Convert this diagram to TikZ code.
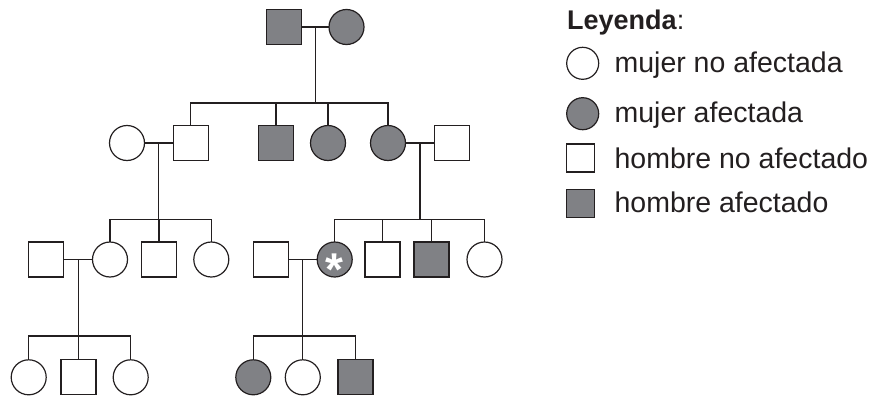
\documentclass[tikz,border=0pt]{standalone}
\usepackage{fontspec}
\setmainfont{Liberation Sans}
\usetikzlibrary{calc}
\definecolor{lc}{RGB}{35,31,32}
\definecolor{gc}{RGB}{128,129,133}
\begin{document}
\begin{tikzpicture}[x=1pt,y=-1pt,
  line width=1.2pt, draw=lc,
  fem/.style={circle, draw=lc, line width=1.2pt, minimum size=35pt, inner sep=0pt, outer sep=0pt},
  mal/.style={rectangle, draw=lc, line width=1.2pt, minimum size=35pt, inner sep=0pt, outer sep=0pt},
  aff/.style={fill=gc},
  lfem/.style={fem, minimum size=32pt},
  lmal/.style={mal, minimum size=28pt},
  ltxt/.style={anchor=base west, inner sep=0pt, text=lc, font=\fontsize{28.5}{31}\selectfont},
  link/.style={draw=lc, line width=1.2pt}]
\useasboundingbox (0,0) rectangle (879,399);

% generation I
\node[mal,aff] (g1m) at (284,27) {};
\node[fem,aff] (g1f) at (346.5,27) {};
\draw[link] (g1m.east) -- (g1f.west);
\coordinate (m1) at ($(g1m.east)!0.5!(g1f.west)$);
\coordinate (s1) at (m1 |- 0,103);

% generation II
\node[fem] (g2a) at (127,143) {};
\node[mal] (g2b) at (190.7,143) {};
\node[mal,aff] (g2c) at (276,143) {};
\node[fem,aff] (g2d) at (328,143) {};
\node[fem,aff] (g2e) at (388,143) {};
\node[mal] (g2f) at (452,143) {};
\draw[link] (m1) -- (s1);
\draw[link] (g2b.north) |- (s1) -| (g2e.north);
\draw[link] (g2c.north) -- (g2c.north |- s1);
\draw[link] (g2d.north) -- (g2d.north |- s1);
\draw[link] (g2a.east) -- (g2b.west);
\draw[link] (g2e.east) -- (g2f.west);
\coordinate (m2) at ($(g2a.east)!0.5!(g2b.west)$);
\coordinate (m3) at ($(g2e.east)!0.5!(g2f.west)$);
\coordinate (s2) at (m2 |- 0,219.5);
\coordinate (s3) at (m3 |- 0,219.5);

% generation III
\node[mal] (g3a) at (46.3,259.5) {};
\node[fem] (g3b) at (110,259.5) {};
\node[mal] (g3c) at (159,259.5) {};
\node[fem] (g3d) at (211.3,259.5) {};
\node[mal] (g3e) at (271,259.5) {};
\node[fem,aff] (g3f) at (334.7,259.5) {};
\node[mal] (g3g) at (382.5,259.5) {};
\node[mal,aff] (g3h) at (431.5,259.5) {};
\node[fem] (g3i) at (484.5,259.5) {};
\node[text=white, font=\fontsize{46}{46}\selectfont\bfseries, inner sep=0pt]
  (star) at ($(g3f.center)+(-0.5,10)$) {*};
\draw[link] (m2) -- (s2);
\draw[link] (g3b.north) |- (s2) -| (g3d.north);
\draw[link] (g3c.north) -- (g3c.north |- s2);
\draw[link] (m3) -- (s3);
\draw[link] (g3f.north) |- (s3) -| (g3i.north);
\draw[link] (g3g.north) -- (g3g.north |- s3);
\draw[link] (g3h.north) -- (g3h.north |- s3);
\draw[link] (g3a.east) -- (g3b.west);
\draw[link] (g3e.east) -- (g3f.west);
\coordinate (m4) at ($(g3a.east)!0.5!(g3b.west)$);
\coordinate (m5) at ($(g3e.east)!0.5!(g3f.west)$);
\coordinate (s4) at (m4 |- 0,336);
\coordinate (s5) at (m5 |- 0,336);

% generation IV
\node[fem] (g4a) at (28.7,377.3) {};
\node[mal] (g4b) at (78.5,377.3) {};
\node[fem] (g4c) at (130.7,377.3) {};
\node[fem,aff] (g4d) at (253.3,377.3) {};
\node[fem] (g4e) at (302.8,377.3) {};
\node[mal,aff] (g4f) at (355.5,377.3) {};
\draw[link] (m4) -- (s4);
\draw[link] (g4a.north) |- (s4) -| (g4c.north);
\draw[link] (g4b.north) -- (g4b.north |- s4);
\draw[link] (m5) -- (s5);
\draw[link] (g4d.north) |- (s5) -| (g4f.north);
\draw[link] (g4e.north) -- (g4e.north |- s5);

% legend
\node[ltxt, font=\fontsize{27}{30}\selectfont] (ltitle) at (566.5,29) {\textbf{Leyenda}:};
\node[lfem] (k1) at (582.7,63.3) {};
\node[ltxt] (t1) at (614,72.3) {mujer no afectada};
\node[lfem,aff] (k2) at (582.7,113.7) {};
\node[ltxt] (t2) at (614,122) {mujer afectada};
\node[lmal] (k3) at (580.5,158) {};
\node[ltxt] (t3) at (614,168.5) {hombre no afectado};
\node[lmal,aff] (k4) at (580.5,203.8) {};
\node[ltxt] (t4) at (614,212) {hombre afectado};
\end{tikzpicture}
\end{document}
